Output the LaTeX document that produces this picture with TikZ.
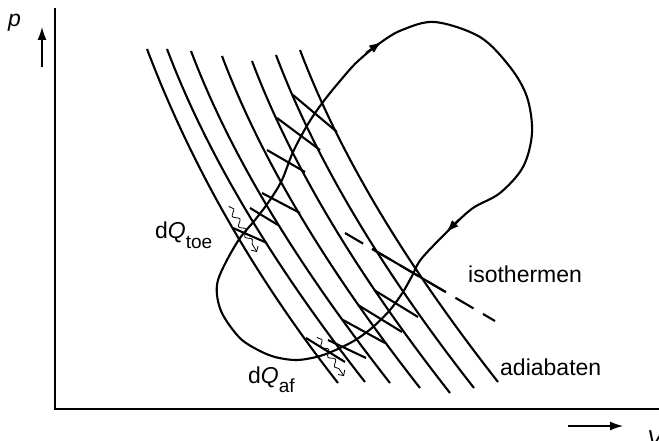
\documentclass[tikz,border=0pt]{standalone}
\usepackage{fontspec}
\setmainfont{Liberation Sans}
\usetikzlibrary{arrows.meta,decorations.pathmorphing}
\begin{document}
\begin{tikzpicture}[x=1pt,y=-1pt,
  curve/.style={line width=2.1pt},
  axis/.style={line width=1.5pt},
  lbl/.style={font=\fontsize{23}{26}\selectfont, inner sep=0pt},
  heat/.style={line width=0.8pt, decorate,
    decoration={snake,amplitude=2.6pt,segment length=12pt,pre length=1pt,post length=5pt},
    -{Straight Barb[length=4pt,width=8pt]}},
  bigtip/.style={-{Latex[length=13pt,width=9pt]}},
]
\useasboundingbox (0,0) rectangle (659,441);

% axes
\coordinate (ytop) at (55,8);
\coordinate (orig) at (55,409);
\coordinate (xend) at (659,409);
\draw[axis] (ytop) -- (orig) -- (xend);
\coordinate (pa0) at (42,67); \coordinate (pa1) at (42,27);
\draw[line width=1.3pt, bigtip] (pa0) -- (pa1);
\coordinate (va0) at (568,426); \coordinate (va1) at (623,426);
\draw[line width=1.3pt, bigtip] (va0) -- (va1);
\node[lbl, anchor=base west] (ptxt) at (8,27) {\itshape p};
\node[lbl, anchor=base west] (vtxt) at (647,446) {\itshape V};

% adiabats
\foreach \n/\xt/\yt/\xb/\yb in {1/147/49/338/383, 2/167/49/365/382, 3/191/51/390/383,
  4/222/56/420/388, 5/252/61/450/393, 6/276/55/474/388, 7/300/50/498/382}
{
  \coordinate (at\n) at (\xt,\yt);
  \coordinate (ab\n) at (\xb,\yb);
  \draw[curve] (at\n) .. controls +(42,111) and +(-87,-111) .. (ab\n);
}

% cycle
\draw[curve] plot[smooth cycle, tension=0.55] coordinates {
 (217,295) (218,280) (227,260) (240,238) (255,220) (270,200) (282,180) (293,152)
 (308,124) (323,102) (340,81) (357,62) (380,43) (402,30) (435,22) (480,37)
 (510,67) (527,97) (532,133) (523,167) (500,193) (473,208) (452,227) (422,258)
 (412,276) (403,292) (390,310) (373,327) (357,339) (340,348) (320,356) (297,360)
 (275,357) (258,350) (242,340) (230,326) (221,311)};
\coordinate (ar1a) at (366,53); \coordinate (ar1b) at (382,41.6);
\draw[curve, bigtip] (ar1a) -- (ar1b);
\coordinate (ar2a) at (459,219.5); \coordinate (ar2b) at (446,232.5);
\draw[curve, bigtip] (ar2a) -- (ar2b);

% isotherm pieces (upper)
\foreach \xa/\ya/\xb/\yb in {233/228/267/243, 250/208/278/225, 262/193/300/213,
  267/150/305/172, 277/118/320/150, 293/95/337/132}
  \draw[curve] (\xa,\ya) -- (\xb,\yb);
% isotherm pieces (lower)
\foreach \xa/\ya/\xb/\yb in {306/338/345/362, 328/340/366/358, 343/320/385/343,
  358/305/402/332, 374/290/418/317, 372/248.8/445/291.6}
  \draw[curve] (\xa,\ya) -- (\xb,\yb);

% dashed isotherm
\coordinate (is0) at (345,233); \coordinate (is1) at (495,321);
\draw[curve, dash pattern=on 21pt off 11pt] (is0) -- (is1);

% heat arrows
\coordinate (h1a) at (229,206); \coordinate (h1b) at (257,252);
\draw[heat] (h1a) -- (h1b);
\coordinate (h2a) at (317,337); \coordinate (h2b) at (344,376);
\draw[heat] (h2a) -- (h2b);

% labels
\node[lbl, anchor=base west] (dqtoe) at (155,238)
  {d\textit{Q}\raisebox{-10pt}{\fontsize{19}{19}\selectfont toe}};
\node[lbl, anchor=base west] (dqaf) at (248,383)
  {d\textit{Q}\raisebox{-9pt}{\fontsize{19}{19}\selectfont af}};
\node[lbl, anchor=base west] (isotxt) at (468,282) {isothermen};
\node[lbl, anchor=base west] (adiatxt) at (500,375) {adiabaten};
\end{tikzpicture}
\end{document}
